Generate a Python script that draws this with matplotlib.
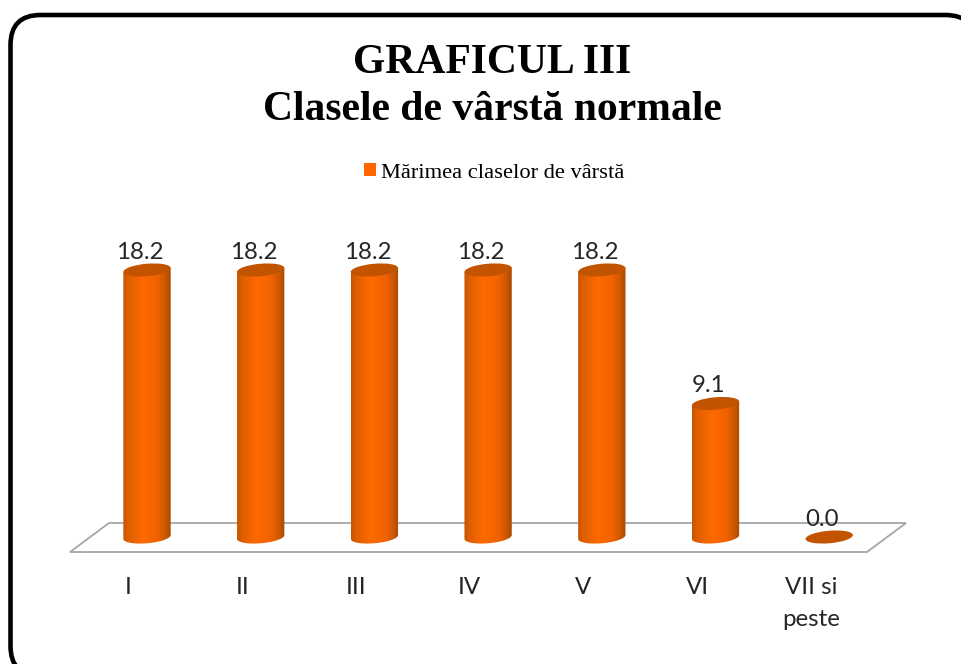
import matplotlib

matplotlib.use("Agg")
import matplotlib.pyplot as plt
import numpy as np
from matplotlib.colors import LinearSegmentedColormap
from matplotlib.patches import Ellipse, FancyBboxPatch, Patch, Polygon
from matplotlib.transforms import Affine2D

WIDTH, HEIGHT = 962, 664

categories = ["I", "II", "III", "IV", "V", "VI", "VII si\npeste"]
values = [18.2, 18.2, 18.2, 18.2, 18.2, 9.1, 0.0]
series_name = "Mărimea claselor de vârstă"

# Pixel layout
X_ZERO, X_STEP = 147.0, 113.7
Y_ZERO, Y_UNIT = 537.0, 14.67
BAR_W, ELL_H, TILT = 47.5, 12.5, 5.0

fig = plt.figure(figsize=(WIDTH / 100, HEIGHT / 100), dpi=100, facecolor="white")

# Axes fills the figure, limits chosen so value 0 and category 0 land on the floor
ax = fig.add_axes([0, 0, 1, 1])
ax.set_xlim(-X_ZERO / X_STEP, (WIDTH - X_ZERO) / X_STEP)
ax.set_ylim(-(HEIGHT - Y_ZERO) / Y_UNIT, Y_ZERO / Y_UNIT)
ax.axis("off")


def px(x, y):
    # reference pixel (y down) to display coords
    return x, HEIGHT - y


# Rounded frame, runs off the right and bottom of the picture
frame = FancyBboxPatch(
    (10.5, HEIGHT - 676),
    965,
    661,
    boxstyle="round,pad=0,rounding_size=30",
    transform=Affine2D(),
    facecolor="white",
    edgecolor="black",
    linewidth=3.3,
    clip_on=False,
)
ax.add_patch(frame)

# Floor of the 3D chart
floor = [px(70, 552), px(109, 523), px(906, 523), px(867, 552)]
ax.add_patch(
    Polygon(floor, closed=True, transform=Affine2D(), facecolor="white",
            edgecolor="#a6a6a6", linewidth=1.3, joinstyle="miter", zorder=2)
)

body_cmap = LinearSegmentedColormap.from_list(
    "cyl",
    [(0.0, "#c65600"), (0.12, "#e05f00"), (0.42, "#ff6a00"), (0.72, "#f06200"),
     (0.9, "#c85600"), (1.0, "#a84800")],
)
gradient = np.linspace(0, 1, 256).reshape(1, -1)


def ellipse_points(cx, cy, t):
    a, b = BAR_W / 2, ELL_H / 2
    ang = np.radians(TILT)
    ex, ey = a * np.cos(t), b * np.sin(t)
    return cx + ex * np.cos(ang) - ey * np.sin(ang), cy + ex * np.sin(ang) + ey * np.cos(ang)


for i, (cat, val) in enumerate(zip(categories, values)):
    bx, by = ax.transData.transform((i, 0))
    tx, ty = ax.transData.transform((i, val))

    if val > 0:
        t = np.linspace(np.pi, 2 * np.pi, 40)
        low_x, low_y = ellipse_points(bx, by, t)
        top_x, top_y = ellipse_points(tx, ty, np.array([2 * np.pi, np.pi]))
        outline = np.column_stack([np.r_[low_x, top_x], np.r_[low_y, top_y]])
        clip = Polygon(outline, closed=True, transform=Affine2D(), facecolor="none", edgecolor="none")
        ax.add_patch(clip)
        half = BAR_W / 2 / X_STEP
        img = ax.imshow(gradient, cmap=body_cmap, aspect="auto", zorder=3,
                        extent=[i - half, i + half, -1, val + 1], interpolation="bilinear")
        img.set_clip_path(clip)

    ax.add_patch(
        Ellipse((tx, ty), BAR_W, ELL_H, angle=TILT, transform=Affine2D(),
                facecolor="#c25400", edgecolor="none", zorder=4)
    )

    # value label sits up and to the left of the cap
    ax.annotate(f"{val:.1f}", (i, val), xytext=(-5, 12.8),
                textcoords="offset points", ha="center", va="center",
                fontsize=17.3, family="Lato", color="#262626", zorder=5)

    # category labels are placed line by line below the floor
    for j, part in enumerate(cat.split("\n")):
        ax.text(bx - 18.5, HEIGHT - 587 - 33 * j, part, transform=Affine2D(), ha="center", va="center",
                fontsize=17.3, family="Lato", color="#262626")

# Titles
ax.text(492, HEIGHT - 63, "GRAFICUL III", transform=Affine2D(), ha="center", va="center",
        fontsize=30, fontweight="bold", family="Liberation Serif", color="black")
ax.text(492, HEIGHT - 110, "Clasele de vârstă normale", transform=Affine2D(), ha="center", va="center",
        fontsize=30, fontweight="bold", family="Liberation Serif", color="black")

# Legend
fig.legend(
    handles=[Patch(facecolor="#ff6600", edgecolor="none", label=series_name)],
    loc="center",
    bbox_to_anchor=(494.5 / WIDTH, 1 - 173 / HEIGHT),
    frameon=False,
    handlelength=0.5,
    handleheight=0.5,
    handletextpad=0.25,
    prop={"family": "Liberation Serif", "size": 16.2},
)

fig.savefig("out.png", dpi=100)
